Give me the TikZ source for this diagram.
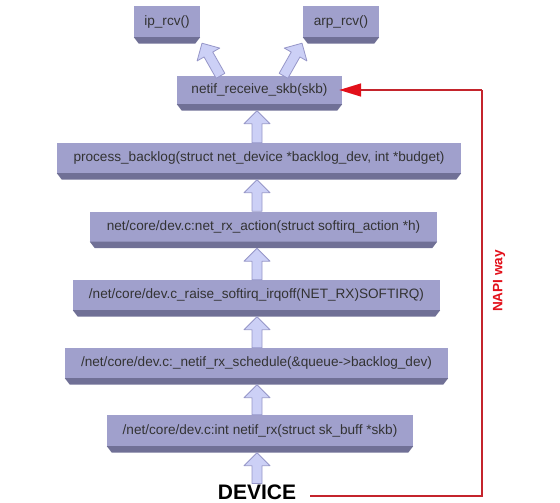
\documentclass[tikz,border=0pt]{standalone}
\usepackage{fontspec}
\setmainfont{Liberation Sans}
\usetikzlibrary{calc,arrows.meta}

\definecolor{slabtop}{RGB}{160,160,204}
\definecolor{slabside}{RGB}{112,112,150}
\definecolor{arrowfill}{RGB}{204,208,246}
\definecolor{arrowline}{RGB}{150,150,200}
\definecolor{napired}{RGB}{196,36,44}
\definecolor{napitip}{RGB}{226,16,26}

\tikzset{
	slab/.style={fill=slabtop, text=black!80, inner sep=0pt, minimum height=30pt,
		font=\fontsize{13.6}{15}\selectfont},
	blockarrow/.style={draw=arrowline, fill=arrowfill, line width=0.8pt, line join=round,
		to path={
			($(\tikztostart)!5pt!90:(\tikztotarget)$)
			-- ($($(\tikztotarget)!13pt!(\tikztostart)$)!5pt!90:(\tikztotarget)$)
			-- ($($(\tikztotarget)!13pt!(\tikztostart)$)!13pt!90:(\tikztotarget)$)
			-- (\tikztotarget)
			-- ($($(\tikztotarget)!13pt!(\tikztostart)$)!13pt!-90:(\tikztotarget)$)
			-- ($($(\tikztotarget)!13pt!(\tikztostart)$)!5pt!-90:(\tikztotarget)$)
			-- ($(\tikztostart)!5pt!-90:(\tikztotarget)$) -- cycle}},
	napi/.style={draw=napired, line width=1.6pt}
}

\begin{document}
\begin{tikzpicture}[x=1pt, y=-1pt]
	\useasboundingbox (0,0) rectangle (560,503);

	% функции приёма
	\node [slab, minimum width=66pt, minimum height=31pt] (iprcv) at (167,21.5) {ip\_rcv()};
	\node [slab, minimum width=76pt, minimum height=31pt] (arprcv) at (341,21.5) {arp\_rcv()};
	\node [slab, minimum width=165pt, minimum height=28pt] (nrs) at (259.5,90) {netif\_receive\_skb(skb)};
	\node [slab, minimum width=404pt] (pbl) at (259,158) {process\_backlog(struct net\_device *backlog\_dev, int *budget)};
	\node [slab, minimum width=347pt] (nra) at (263.5,226.5) {net/core/dev.c:net\_rx\_action(struct softirq\_action *h)};
	\node [slab, minimum width=367pt] (rsi) at (256.5,295) {/net/core/dev.c\_raise\_softirq\_irqoff(NET\_RX)SOFTIRQ)};
	\node [slab, minimum width=383pt] (nrxs) at (256.5,363) {/net/core/dev.c:\_netif\_rx\_schedule(\&queue->backlog\_dev)};
	\node [slab, minimum width=306pt, minimum height=31pt] (nrx) at (260,430.5) {/net/core/dev.c:int netif\_rx(struct sk\_buff *skb)};

	% устройство
	\node [inner sep=0pt, anchor=north, font=\fontsize{21}{22}\selectfont\bfseries] (dev) at (257,484.5) {DEVICE};

	% нижние грани
	\foreach \n in {iprcv,arprcv,nrs,pbl,nra,rsi,nrxs,nrx}
		\fill [slabside] (\n.south west) -- (\n.south east) -- ([xshift=-5pt,yshift=-6.5pt]\n.south east)
			-- ([xshift=5pt,yshift=-6.5pt]\n.south west) -- cycle;

	% стрелки вверх
	\draw [blockarrow] ($(dev.north)+(0,-1)$) to ($(nrx.south -| dev)+(0,6.5)$);
	\draw [blockarrow] (nrx.north -| dev) to ($(nrxs.south -| dev)+(0,6.5)$);
	\draw [blockarrow] (nrxs.north -| dev) to ($(rsi.south -| dev)+(0,6.5)$);
	\draw [blockarrow] (rsi.north -| dev) to ($(nra.south -| dev)+(0,6.5)$);
	\draw [blockarrow] (nra.north -| dev) to ($(pbl.south -| dev)+(0,6.5)$);
	\draw [blockarrow] (pbl.north -| dev) to ($(nrs.south -| dev)+(0,6.5)$);
	\draw [blockarrow] ($(nrs.north)+(-39,0)$) to ($(iprcv.south)+(35,6)$);
	\draw [blockarrow] ($(nrs.north)+(24,0)$) to ($(arprcv.south)+(-39,6)$);

	% путь NAPI
	\coordinate (napix) at (482,0);
	\draw [napi] ([xshift=14pt,yshift=-4pt]dev.east) -| (napix |- nrs.east);
	\draw [napi, -{Triangle[length=22pt,width=13pt,color=napitip]}, shorten >=-3pt]
		(napix |- nrs.east) -- (nrs.east);
	\node [rotate=90, text=napitip, font=\fontsize{13.6}{15}\selectfont\bfseries] (napi) at (499,281) {NAPI way};
\end{tikzpicture}
\end{document}
